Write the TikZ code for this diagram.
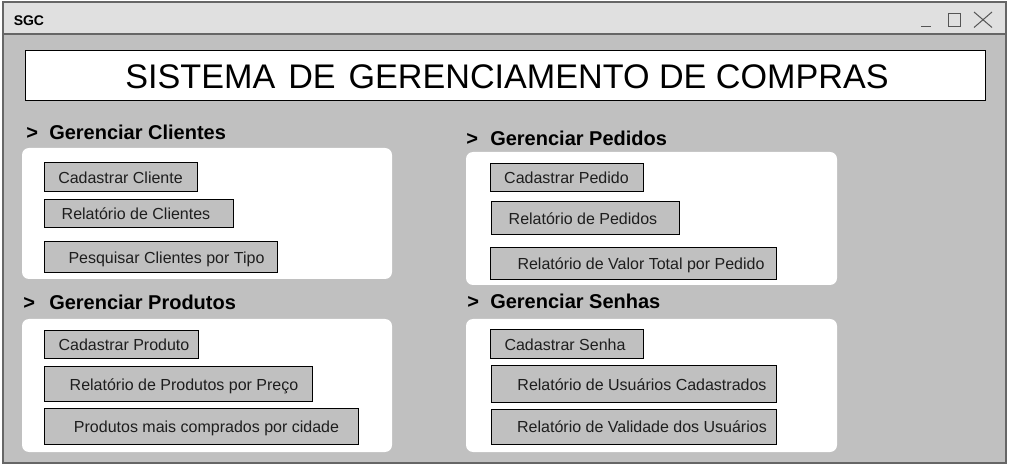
\documentclass[tikz,border=0pt]{standalone}
\usepackage{fontspec}
\setmainfont{Liberation Sans}
\newlength\pxl
\setlength\pxl{0.75pt}
\newcommand\sh[1]{\hspace*{#1\pxl}}
\definecolor{bgc}{HTML}{C0C0C0}
\definecolor{barc}{HTML}{E0E0E0}
\definecolor{bordc}{HTML}{666666}
\definecolor{iconc}{HTML}{555555}
\definecolor{txtc}{HTML}{1E1E1E}
\begin{document}
\begin{tikzpicture}[x=0.75pt,y=-0.75pt,
  panel/.style 2 args={fill=white, draw=none, rounded corners=7\pxl, inner sep=0pt,
    minimum width=#1\pxl, minimum height=#2\pxl},
  btn/.style 2 args={draw=black, line width=0.75pt, fill=bgc, inner sep=0pt,
    minimum width=#1\pxl, minimum height=#2\pxl, text=txtc,
    font=\fontsize{12pt}{14pt}\selectfont, text height=11.5\pxl, text depth=0pt},
  head/.style={anchor=base west, inner sep=0pt, text=black,
    font=\fontsize{15pt}{18pt}\selectfont\bfseries},
  icon/.style={draw=iconc, line width=0.75pt}
]
\useasboundingbox (0,0) rectangle (1010,466);
% window
\fill[bgc] (2.5,2.5) rectangle (1006,462.5);
\fill[barc] (2.5,2.5) rectangle (1006,34);
\draw[bordc, line width=1.1pt] (2.5,34) -- (1006,34);
\draw[bordc, line width=1.5pt] (2.5,2.5) rectangle (1006,462.5);
\node[anchor=base west, inner sep=0pt, font=\fontsize{10.5pt}{12pt}\selectfont\bfseries] (sgc) at (13.5,26) {SGC};
% window controls
\draw[icon] (921,26.5) -- (931,26.5);
\draw[icon] (948,13.5) rectangle (960,26.5);
\draw[icon] (974,12) -- (992,27.5);
\draw[icon] (974,27.5) -- (992,12);
% title
\node[draw=black, line width=0.75pt, fill=white, inner sep=0pt,
  minimum width=960\pxl, minimum height=50\pxl,
  font=\fontsize{25.6pt}{30pt}\selectfont, text height=25\pxl, text depth=0pt]
  (title) at (505,76) {\sh{4}SISTEMA\hspace{3.5\pxl} DE\hspace{3.5\pxl} GERENCIAMENTO DE COMPRAS};
% panels
\node[panel={370}{131}] (pcli) at (207,213.5) {};
\node[panel={371}{133}] (pped) at (651.5,218.5) {};
\node[panel={370}{133}] (ppro) at (207,385.5) {};
\node[panel={371}{133}] (psen) at (651.5,385.5) {};
% headings
\node[head] (hc1) at (26,140) {>};
\node[head] (hc2) at (49,140) {Gerenciar Clientes};
\node[head] (hp1) at (466,146) {>};
\node[head] (hp2) at (490,146) {Gerenciar Pedidos};
\node[head] (hr1) at (23,310) {>};
\node[head] (hr2) at (49,310) {Gerenciar Produtos};
\node[head] (hs1) at (467,309) {>};
\node[head] (hs2) at (490,309) {Gerenciar Senhas};
% buttons: clientes
\node[btn={153}{29}] (c1) at (120.5,177.5) {Cadastrar Cliente};
\node[btn={189}{28}] (c2) at (138.5,214) {\sh{-5}Relatório de Clientes};
\node[btn={233}{31}] (c3) at (160.5,257.5) {\sh{12}Pesquisar Clientes por Tipo};
% pedidos
\node[btn={153}{28}] (p1) at (566.5,178) {Cadastrar Pedido};
\node[btn={188}{33}] (p2) at (585,218.5) {\sh{-4}Relatório de Pedidos};
\node[btn={286}{32}] (p3) at (633,264) {\sh{16}Relatório de Valor Total por Pedido};
% produtos
\node[btn={154}{28}] (r1) at (121,345) {\sh{6}Cadastrar Produto};
\node[btn={268}{35}] (r2) at (178,384.5) {\sh{12}Relatório de Produtos por Preço};
\node[btn={314}{35}] (r3) at (201,426.5) {\sh{11}Produtos mais comprados por cidade};
% senhas
\node[btn={153}{29}] (s1) at (566.5,344.5) {\sh{-3}Cadastrar Senha};
\node[btn={285}{37}] (s2) at (633.5,384.5) {\sh{17}Relatório de Usuários Cadastrados};
\node[btn={285}{34}] (s3) at (633.5,427) {\sh{17}Relatório de Validade dos Usuários};
\end{tikzpicture}
\end{document}
